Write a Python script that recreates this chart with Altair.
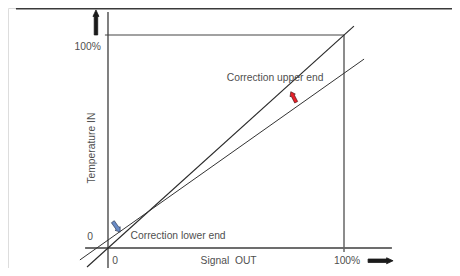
import altair as alt
import pandas as pd

# ---- diagram lines, in percent units (Signal OUT %, Temperature IN %) ----
line_names = ["border", "y_axis", "x_axis", "level_100", "signal_100", "ideal", "corrected"]
line_x1 = [-39.0, 0.0, -9.7, -1.3, 100.0, -8.9, -11.9]
line_y1 = [112.3, 110.8, 0.0, 100.0, 100.0, -8.9, -5.6]
line_x2 = [146.2, 0.0, 120.3, 100.0, 100.0, 104.2, 108.5]
line_y2 = [112.3, -11.3, 0.0, 100.0, -1.9, 104.2, 88.7]

# ---- text labels ----
label_text = ["100%", "0", "0", "100%", "Signal\u00a0\u00a0OUT", "Temperature IN",
              "Correction upper end", "Correction lower end"]
label_x = [-3.0, -7.6, 3.0, 101.3, 51.1, -6.9, 70.8, 29.7]
label_y = [94.4, 5.2, -6.3, -6.3, -6.0, 46.9, 79.8, 5.4]

# ---- arrows ----
arrow_names = ["temp_up", "signal_right", "upper_corr", "lower_corr"]
arrow_x = [-5.1, 115.5, 78.6, 3.6]
arrow_y = [105.9, -6.0, 70.9, 9.9]

# ---- styles ----
line_style = {
    "border": ("#3a3a3a", 1.6),
    "y_axis": ("#3c3c3c", 1.3),
    "x_axis": ("#3c3c3c", 1.3),
    "level_100": ("#444444", 1.1),
    "signal_100": ("#666666", 1.5),
    "ideal": ("#2a2a2a", 1.15),
    "corrected": ("#333333", 1.0),
}
label_style = [("right", 0), ("center", 0), ("center", 0), ("center", 0),
               ("center", 0), ("center", 270), ("center", 0), ("center", 0)]
long_arrow = "M 0 -1 L 0.24 -0.48 L 0.14 -0.48 L 0.14 1 L -0.14 1 L -0.14 -0.48 L -0.24 -0.48 Z"
short_arrow = "M 0 -1 L 0.5 -0.3 L 0.28 -0.3 L 0.28 1 L -0.28 1 L -0.28 -0.3 L -0.5 -0.3 Z"
arrow_style = {
    "temp_up": (long_arrow, 0, 625, "#1a1a1a", "#1a1a1a", 0.8),
    "signal_right": (long_arrow, 90, 625, "#1a1a1a", "#1a1a1a", 0.8),
    "upper_corr": (short_arrow, 333, 140, "#e8202a", "#4a1515", 0.6),
    "lower_corr": (short_arrow, 145, 160, "#6a8cc6", "#26324a", 0.6),
}

lines = pd.DataFrame({"name": line_names, "x": line_x1, "y": line_y1,
                      "x2": line_x2, "y2": line_y2})
lines["color"] = [line_style[n][0] for n in line_names]
lines["width"] = [line_style[n][1] for n in line_names]

labels = pd.DataFrame({"text": label_text, "x": label_x, "y": label_y})
labels["align"] = [s[0] for s in label_style]
labels["angle"] = [s[1] for s in label_style]

arrows = pd.DataFrame({"name": arrow_names, "x": arrow_x, "y": arrow_y})

W, H = 444, 260
xs = alt.Scale(domain=[-42.37, 145.76], nice=False, zero=False)
ys = alt.Scale(domain=[-9.39, 112.68], nice=False, zero=False)

layers = []
for _, r in lines.iterrows():
    layers.append(
        alt.Chart(lines[lines.name == r["name"]]).mark_rule(
            color=r["color"], strokeWidth=float(r["width"])
        ).encode(
            x=alt.X("x:Q", scale=xs, axis=None),
            y=alt.Y("y:Q", scale=ys, axis=None),
            x2="x2:Q", y2="y2:Q",
        )
    )

for i, r in labels.iterrows():
    layers.append(
        alt.Chart(labels.iloc[[i]]).mark_text(
            font="Liberation Sans", fontSize=10.3, color="#4f4f4f",
            align=r["align"], baseline="middle", angle=int(r["angle"]),
        ).encode(
            x=alt.X("x:Q", scale=xs, axis=None),
            y=alt.Y("y:Q", scale=ys, axis=None),
            text="text:N",
        )
    )

for i, n in enumerate(arrow_names):
    shape, ang, size, fill, stroke, sw = arrow_style[n]
    layers.append(
        alt.Chart(arrows.iloc[[i]]).mark_point(
            shape=shape, angle=ang, size=size, filled=True,
            fill=fill, stroke=stroke, strokeWidth=sw, opacity=1,
        ).encode(
            x=alt.X("x:Q", scale=xs, axis=None),
            y=alt.Y("y:Q", scale=ys, axis=None),
        )
    )

chart = alt.layer(*layers).properties(
    width=W, height=H, padding=0,
    autosize=alt.AutoSizeParams(type="none"),
).configure_view(stroke=None).configure(background="white")

chart.save("out.html", embed_options={"renderer": "svg", "actions": False})
